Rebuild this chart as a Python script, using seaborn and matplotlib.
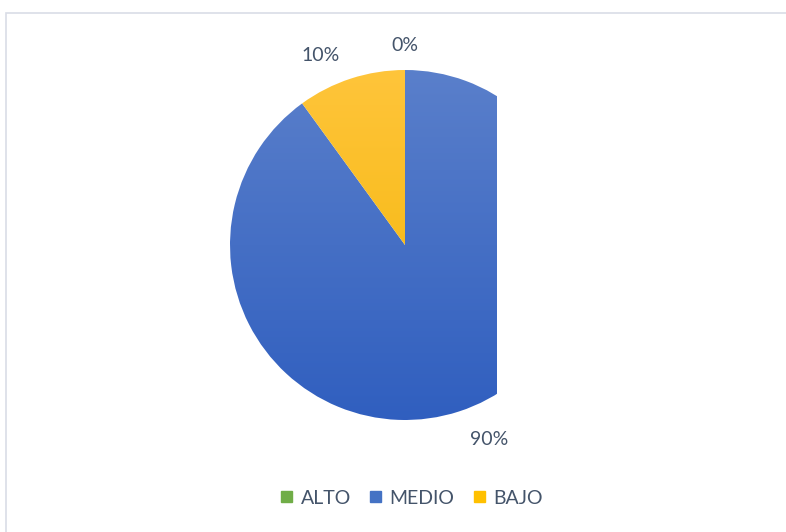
import matplotlib
matplotlib.use("Agg")
import numpy as np
import matplotlib.pyplot as plt
import matplotlib.patches as mpatches
from matplotlib.colors import LinearSegmentedColormap
import seaborn as sns

categories = ["ALTO", "MEDIO", "BAJO"]
values = [0, 90, 10]
colors = ["#70AD47", "#4472C4", "#FFC000"]
# light (top) / dark (bottom) shades used for the Excel-style gradient fill
grad_top = ["#8BC16A", "#5B80CB", "#FFC53C"]
grad_bottom = ["#5E9A3A", "#2F5EBF", "#F2B400"]

sns.set_theme(style="white")
plt.rcParams['font.family'] = ['Lato', 'DejaVu Sans']
text_color = "#44546A"

W, H = 786, 532
fig = plt.figure(figsize=(W / 100, H / 100), dpi=100)

# outer chart frame (only top/left visible in the original)
fig.patches.append(mpatches.Rectangle((6 / W, -0.05), 1.1, 1 - 13 / H + 0.05,
                                      transform=fig.transFigure, fill=False,
                                      edgecolor="#D9DDE6", linewidth=1.2))

cx, cy, r = 405, 245, 175
ax = fig.add_axes([(cx - r) / W, (H - cy - r) / H, 2 * r / W, 2 * r / H])
wedges, texts, autotexts = ax.pie(values, colors=colors, startangle=90, counterclock=False,
                                  autopct=lambda p: f"{p:.0f}%", pctdistance=1.14,
                                  wedgeprops=dict(linewidth=0),
                                  textprops=dict(color=text_color, fontsize=14))
ax.axis("off")

# the original pie is cut off on the right side
x_cut = (497 - cx) / r
grad = np.linspace(0, 1, 256).reshape(-1, 1)
for w, c0, c1 in zip(wedges, grad_top, grad_bottom):
    w.set_alpha(0)
    cmap = LinearSegmentedColormap.from_list("g", [c0, c1])
    im = ax.imshow(grad, cmap=cmap, extent=(-1.05, x_cut, -1.05, 1.05),
                   aspect="auto", origin="upper", zorder=1)
    im.set_clip_path(w)
ax.set_xlim(-1, 1)
ax.set_ylim(-1, 1)

# nudge labels to Excel's positions
x, y = autotexts[2].get_position()
autotexts[2].set_position((x - 0.13, y))
x, y = autotexts[1].get_position()
autotexts[1].set_position((x + 0.13, y - 0.03))

handles = [mpatches.Patch(color=c, label=l) for c, l in zip(colors, categories)]
leg = fig.legend(handles=handles, loc="center", bbox_to_anchor=(412 / W, 1 - 498 / H),
                 ncol=3, frameon=False, fontsize=14, handlelength=0.55, handleheight=0.55,
                 handletextpad=0.45, columnspacing=1.0)
for t in leg.get_texts():
    t.set_color(text_color)

fig.savefig("out.png", dpi=100)
